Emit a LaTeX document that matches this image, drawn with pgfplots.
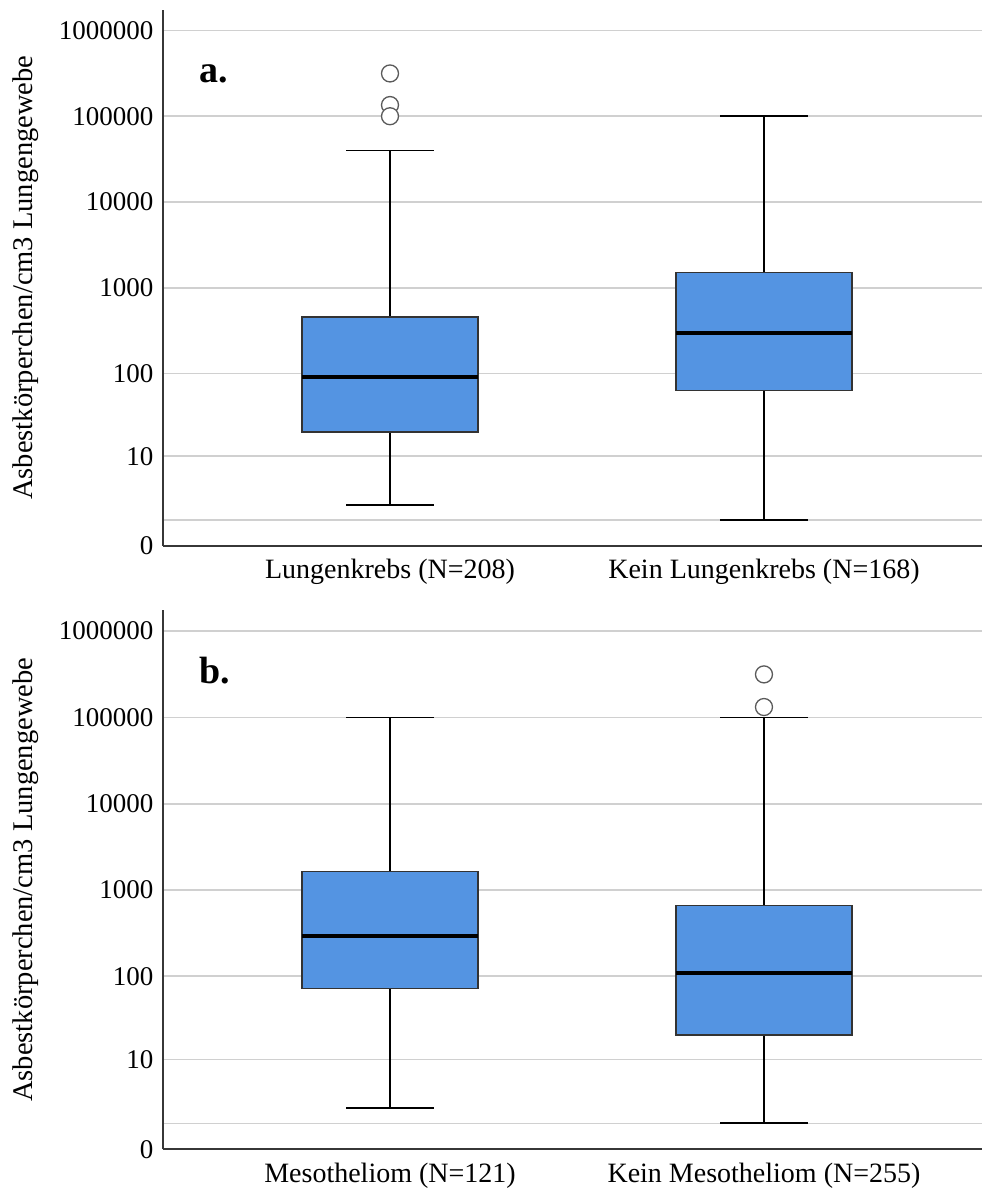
\documentclass[border=0pt]{standalone}
\usepackage{fontspec}
\setmainfont{Liberation Serif}
\usepackage{pgfplots}
\pgfplotsset{compat=1.18}
\usepgfplotslibrary{statistics}

\definecolor{boxblue}{RGB}{84,148,226}
\definecolor{gridgray}{RGB}{208,208,208}
\definecolor{axisgray}{RGB}{55,55,55}
\definecolor{outlier}{RGB}{90,90,90}

% SPSS-style "safe log" scale: y -> log10(1+y), so that 0 can be shown
\makeatletter
\newcommand\safelog[1]{%
  \edef\safelog@arg{#1}%
  \ifx\safelog@arg\@empty
    \def\pgfmathresult{}%
  \else
    \begingroup
      \pgfkeys{/pgf/fpu=true,/pgf/fpu/output format=fixed}%
      \pgfmathparse{log10(1+\safelog@arg)}%
      \pgfmathsmuggle\pgfmathresult
    \endgroup
  \fi}
\makeatother

\tikzset{panel tag/.style={anchor=base west, inner sep=0pt, font=\fontsize{38}{40}\selectfont\bfseries}}

\pgfplotsset{
  panel/.style={
    scale only axis,
    width=819pt,
    xmin=0.393, xmax=2.583,
    ymin=0, ymax=1740000,
    y coord trafo/.code={\safelog{##1}},
    axis x line*=bottom,
    axis y line*=left,
    axis line style={-, axisgray, line width=1.8pt},
    xtick={1,2},
    ytick={0,1,10,100,1000,10000,100000,1000000},
    yticklabels={0,,10,100,1000,10000,100000,1000000},
    major tick length=0pt,
    ymajorgrids,
    major grid style={gridgray, line width=1.6pt},
    yticklabel style={font=\fontsize{27}{32}\selectfont, xshift=-6pt},
    xticklabel style={font=\fontsize{28}{32}\selectfont, yshift=-10pt},
    ylabel={Asbestkörperchen/cm3 Lungengewebe},
    ylabel style={font=\fontsize{28.5}{32}\selectfont, at={(axis description cs:-0.1514,0.5)}, anchor=south, inner sep=0pt},
    boxplot/draw direction=y,
    boxplot/box extend=0.47,
    boxplot/whisker extend=0.233,
    boxplot/every box/.style={fill=boxblue, draw=black!80, line width=1.3pt},
    boxplot/every whisker/.style={black, line width=1.8pt},
    boxplot/every median/.style={black, line width=3.8pt},
  },
  outliers/.style={mark=*, mark size=8.5pt, mark options={fill=white, draw=outlier, line width=1.3pt}},
}

\begin{document}
\begin{tikzpicture}
\useasboundingbox (0,0) rectangle (982pt,1189pt);

% a. Lungenkrebs
\begin{axis}[panel, height=536pt, at={(163pt,643.3pt)}, anchor=south west,
  xticklabels={Lungenkrebs (N=208), Kein Lungenkrebs (N=168)}]
  \addplot[boxplot prepared={draw position=1,
      lower whisker=2, lower quartile=20, median=92,
      upper quartile=460, upper whisker=40000}, outliers]
    coordinates {(1,315000) (1,135000) (1,100000)};
  \addplot[boxplot prepared={draw position=2,
      lower whisker=1, lower quartile=63, median=300,
      upper quartile=1520, upper whisker=100000}, outliers]
    coordinates {};
  \node[panel tag] at (axis description cs:0.044,0.864) {a.};
\end{axis}

% b. Mesotheliom
\begin{axis}[panel, height=539pt, at={(163pt,39.7pt)}, anchor=south west,
  xticklabels={Mesotheliom (N=121), Kein Mesotheliom (N=255)}]
  \addplot[boxplot prepared={draw position=1,
      lower whisker=2, lower quartile=72, median=295,
      upper quartile=1660, upper whisker=100000}, outliers]
    coordinates {};
  \addplot[boxplot prepared={draw position=2,
      lower whisker=1, lower quartile=20, median=110,
      upper quartile=670, upper whisker=100000}, outliers]
    coordinates {(2,315000) (2,132000)};
  \node[panel tag] at (axis description cs:0.044,0.864) {b.};
\end{axis}
\end{tikzpicture}
\end{document}
